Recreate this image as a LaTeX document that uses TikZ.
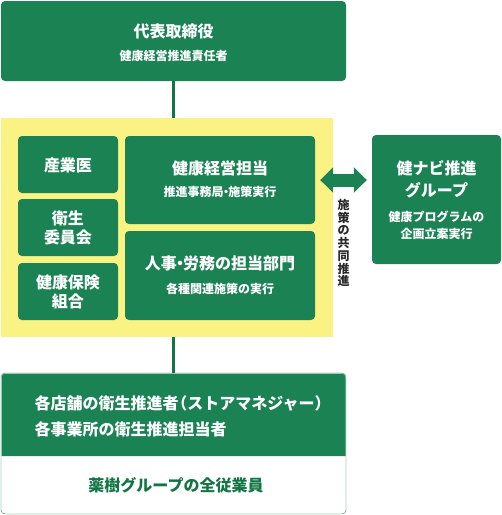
\documentclass[tikz,border=0pt]{standalone}
\usepackage{fontspec}
\setmainfont{Noto Sans CJK JP}
\usetikzlibrary{arrows.meta}
\definecolor{kgreen}{RGB}{27,130,84}
\definecolor{kline}{RGB}{18,118,68}
\definecolor{kyellow}{RGB}{250,243,132}
\definecolor{ktext}{RGB}{40,40,40}
\newcommand{\kdot}{\kern-.3em・\kern-.3em}

\begin{document}
\begin{tikzpicture}[x=1pt,y=-1pt,
		box/.style={fill=kgreen,rounded corners=4pt,inner sep=0pt},
		ttl/.style={text=white,align=center,font=\fontsize{16}{19}\selectfont\bfseries},
		sub/.style={text=white,align=center,font=\fontsize{12}{17}\selectfont\bfseries},
		link/.style={draw=kline,line width=3pt}]
		\useasboundingbox (0,0) rectangle (502,515);

		% Yellow area behind the team
		\node[fill=kyellow,minimum width=332pt,minimum height=219pt,inner sep=0pt] (area) at (167,227.5) {};

		% Boxes
		\node[box,minimum width=345pt,minimum height=80pt]  (ceo)    at (173.5,41)    {};
		\node[box,minimum width=100pt,minimum height=57pt]  (doc)    at (68,164.5)    {};
		\node[box,minimum width=100pt,minimum height=57pt]  (comm)   at (68,227.5)    {};
		\node[box,minimum width=100pt,minimum height=57pt]  (kenpo)  at (68,291.5)    {};
		\node[box,minimum width=190pt,minimum height=88pt]  (kenkou) at (220,180)     {};
		\node[box,minimum width=190pt,minimum height=89pt]  (hr)     at (220,275.5)   {};
		\node[box,minimum width=129pt,minimum height=129pt] (navi)   at (436.5,199.5) {};
		\node[draw=kgreen,fill=white,rounded corners=4pt,inner sep=0pt,
			minimum width=345pt,minimum height=141pt] (staff) at (173.5,443.5) {};
		\fill[kgreen] (1.5,456) {[rounded corners=4pt] -- (1.5,373.5) -- (345.5,373.5)} -- (345.5,456) -- cycle;

		% Texts
		\node[ttl] (ceo-t)    at (173.5,31)  {代表取締役};
		\node[sub] (ceo-s)    at (173.5,56)  {健康経営推進責任者};
		\node[ttl] (doc-t)    at (68,165)    {産業医};
		\node[ttl] (comm-t)   at (68,227.5)  {衛生\\委員会};
		\node[ttl] (kenpo-t)  at (68,292)    {健康保険\\組合};
		\node[ttl] (kenkou-t) at (220,168)   {健康経営担当};
		\node[sub] (kenkou-s) at (220,192)   {推進事務局\kdot 施策実行};
		\node[ttl] (hr-t)     at (220,263)   {人事\kdot 労務の担当部門};
		\node[sub] (hr-s)     at (220,289)   {各種関連施策の実行};
		\node[ttl,font=\fontsize{16}{22}\selectfont\bfseries] (navi-t) at (436.5,179) {健ナビ推進\\グループ};
		\node[sub] (navi-s)   at (436.5,225.5) {健康プログラムの\\企画立案実行};
		\node[ttl,align=left,anchor=west,font=\fontsize{16}{26}\selectfont\bfseries] (staff-t) at (31,416)
			{各店舗の衛生推進者\kern-.45em（ストアマネジャー）\kern-.45em\\各事業所の衛生推進担当者};
		\node[ttl,text=kline] (staff-s) at (176,485) {薬樹グループの全従業員};
		\node[text=ktext,align=center,font=\fontsize{12}{12.7}\selectfont\bfseries] (joint) at (343.5,243)
			{施\\策\\の\\共\\同\\推\\進};

		% Connectors
		\draw[link] (ceo.south) -- (ceo.south |- area.north);
		\draw[link] (staff.north |- area.south) -- (staff.north);
		\draw[kgreen,line width=13pt,{Triangle[width=25pt,length=13pt]}-{Triangle[width=25pt,length=13pt]}]
			([xshift=5pt]kenkou.east) -- ([xshift=-5pt]kenkou.east -| navi.west);
	\end{tikzpicture}
\end{document}
